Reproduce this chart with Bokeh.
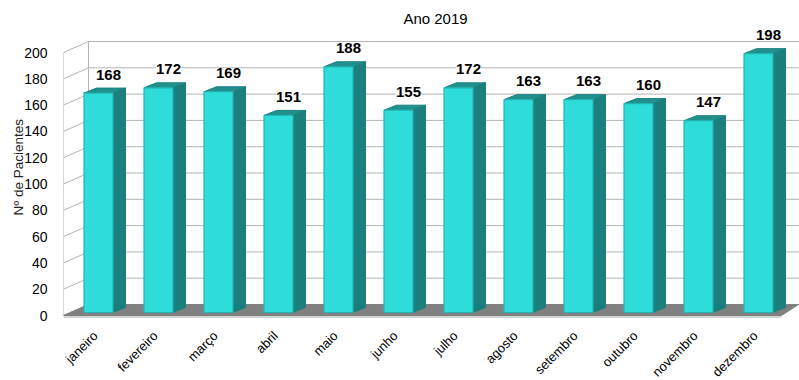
import math
from bokeh.plotting import figure
from bokeh.models import ColumnDataSource, FixedTicker, LabelSet, Label, Range1d, Title
from bokeh.core.properties import value
from bokeh.embed import file_html
from bokeh.resources import INLINE

# ---- data ----
months = ["janeiro", "fevereiro", "março", "abril", "maio", "junho",
          "julho", "agosto", "setembro", "outubro", "novembro", "dezembro"]
patients = [168, 172, 169, 151, 188, 155, 172, 163, 163, 160, 147, 198]
y_ticks = [0, 20, 40, 60, 80, 100, 120, 140, 160, 180, 200]
title_text = "Ano 2019"
y_label = "Nº de Pacientes"

FONT = "Liberation Sans"

# ---- pixel <-> data helpers (style/geometry only) ----
PX_X = 60.0      # px per category
PX_Y = 1.315     # px per patient


def ux(px):
    return px / PX_X


def uy(px):
    return px / PX_Y


X0, X1 = -35 / PX_X, 701 / PX_X
Y0, Y1 = -uy(65), uy(315)

p = figure(width=799, height=380,
           x_range=Range1d(X0, X1), y_range=Range1d(Y0, Y1),
           output_backend="svg", toolbar_location=None,
           min_border_left=63, min_border_right=0,
           min_border_top=0, min_border_bottom=0)
p.outline_line_color = None
p.xgrid.visible = False
p.ygrid.visible = False
p.xaxis.visible = False
p.background_fill_color = "white"
p.border_fill_color = "white"

GRID = "#b3b3b3"
WDX, WDY = ux(25), uy(11)

# left wall slanted lines + back wall grid lines
lx = [[X0, X0 + WDX] for t in y_ticks]
ly = [[t, t + WDY] for t in y_ticks]
bx = [[X0 + WDX, X1] for t in y_ticks]
by = [[t + WDY, t + WDY] for t in y_ticks]
vx = [[X0, X0], [X0 + WDX, X0 + WDX]]
vy = [[0, y_ticks[-1]], [WDY, y_ticks[-1] + WDY]]
p.multi_line(lx + bx + vx, ly + by + vy, line_color=GRID, line_width=1)

# floor
p.patch([X0, X0 + WDX, X0 + ux(735), X0 + ux(718)],
        [0, WDY, WDY, 0], fill_color="#808080", line_color="#808080")
p.line([X0, X0 + ux(718)], [-uy(1.5), -uy(1.5)], line_color="#c4c4c4", line_width=1.5)

# bars
idx = list(range(len(months)))
HW = ux(14.5)
BDX, BDY = ux(12.5), uy(5)
LIFT = uy(1.5)
BASE = uy(3)

front_src = ColumnDataSource(dict(
    left=[i - HW for i in idx], right=[i + HW for i in idx],
    bottom=[BASE for i in idx], top=[v + LIFT for v in patients]))

side_xs = [[i + HW, i + HW + BDX, i + HW + BDX, i + HW] for i in idx]
side_ys = [[BASE, BASE + BDY, v + LIFT + BDY, v + LIFT] for v in patients]
top_xs = [[i - HW, i - HW + BDX, i + HW + BDX, i + HW] for i in idx]
top_ys = [[v + LIFT, v + LIFT + BDY, v + LIFT + BDY, v + LIFT] for v in patients]

p.patches(side_xs, side_ys, fill_color="#1b807d", line_color="#1b807d", line_width=1)
p.patches(top_xs, top_ys, fill_color="#20908d", line_color="#1b807d", line_width=1)
p.quad(left="left", right="right", bottom="bottom", top="top", source=front_src,
       fill_color="#2edcda", line_color="#22b4b2", line_width=1.2)

# value labels
lab_src = ColumnDataSource(dict(x=idx, y=patients, text=[str(v) for v in patients]))
labels = LabelSet(x="x", y="y", text="text", source=lab_src,
                  x_offset=10, y_offset=20,
                  text_align="center", text_baseline="middle",
                  text_font=value(FONT), text_font_size=value("15px"),
                  text_font_style=value("bold"),
                  text_color=value("#000000"), background_fill_color=value("white"))
p.add_layout(labels)

# month (category) labels
month_src = ColumnDataSource(dict(x=idx, y=[0 for i in idx], text=months))
month_labels = LabelSet(x="x", y="y", text="text", source=month_src,
                        x_offset=-3, y_offset=-18, angle=math.pi / 4,
                        text_align="right", text_baseline="middle",
                        text_font=value(FONT), text_font_size=value("13px"),
                        text_color=value("#000000"))
p.add_layout(month_labels)

# title
p.add_layout(Label(x=372, y=362, x_units="screen", y_units="screen",
                   text=title_text, text_align="center", text_baseline="middle",
                   text_font=FONT, text_font_size="15px", text_color="#000000"))

# y axis
p.yaxis.ticker = FixedTicker(ticks=y_ticks)
p.yaxis.axis_line_color = None
p.yaxis.major_tick_line_color = None
p.yaxis.minor_tick_line_color = None
p.yaxis.major_label_standoff = 10
p.yaxis.major_label_text_font = FONT
p.yaxis.major_label_text_font_size = "14px"
p.yaxis.major_label_text_color = "#000000"

# y axis title (left panel, positioned from the bottom edge)
ytitle = Title(text=y_label, align="left", offset=165, standoff=-8,
               text_font=FONT, text_font_size="13.5px", text_font_style="normal",
               text_color="#222222")
p.add_layout(ytitle, "left")

open("out.html", "w").write(file_html(p, INLINE))
